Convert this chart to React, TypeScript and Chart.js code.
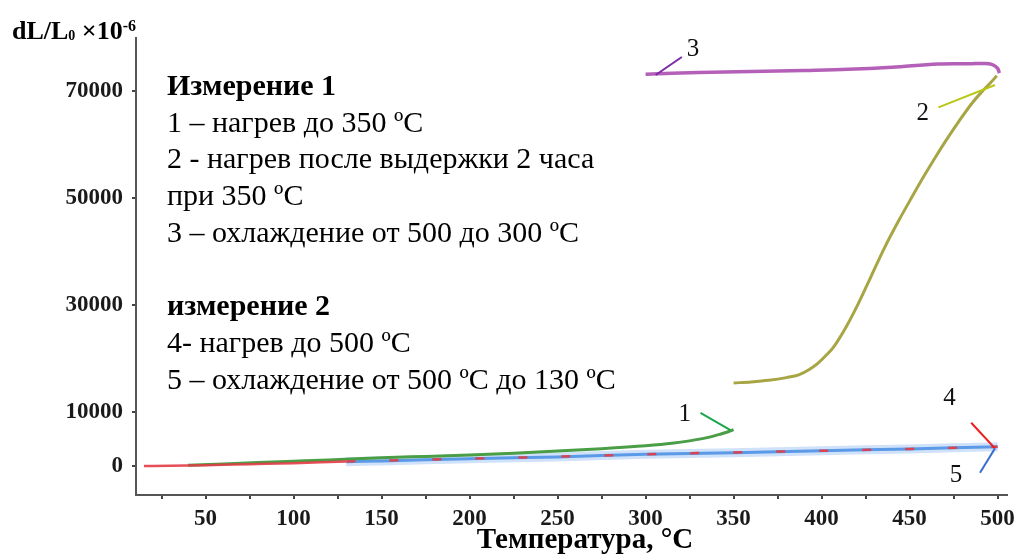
import React, { useEffect, useRef } from "react";
import { Chart, registerables } from "chart.js";
Chart.register(...registerables);

// ---- data (temperature °C, dL/L0 ×10^-6) ----
const heat1T = [40, 60, 80, 100, 120, 150, 175, 200, 225, 250, 275, 300, 315, 325, 335, 342, 347, 350];
const heat1V = [150, 400, 650, 900, 1150, 1550, 1800, 2050, 2400, 2800, 3250, 3800, 4250, 4700, 5300, 5900, 6400, 6800];

const heat2T = [350, 360, 370, 380, 387, 393, 398, 403, 407, 414, 421, 428, 436, 444, 451, 458, 465, 471, 478, 485, 491, 496, 499.5];
const heat2V = [15500, 15700, 16000, 16500, 17000, 18000, 19200, 20800, 22300, 26000, 30400, 35300, 40900, 45900, 50000, 54000, 57800, 60900, 64300, 67500, 69800, 71500, 72800];

const cool3T = [501, 500, 497, 492, 485, 466, 440, 415, 390, 360, 330, 300];
const cool3V = [73300, 74200, 74900, 75100, 75050, 75000, 74400, 74000, 73800, 73600, 73400, 73100];

const heat4T = [15, 30, 50, 75, 100, 130, 150, 200, 250, 300, 350, 400, 450, 500];
const heat4V = [0, 50, 170, 350, 520, 850, 1000, 1400, 1750, 2200, 2550, 2850, 3200, 3600];

const cool5T = [500, 450, 400, 350, 300, 250, 200, 150, 130];
const cool5V = [3600, 3200, 2850, 2500, 2200, 1700, 1380, 950, 820];

const xTickValues = [25, 50, 75, 100, 125, 150, 175, 200, 225, 250, 275, 300, 325, 350, 375, 400, 425, 450, 475, 500];
const xLabelValues = [50, 100, 150, 200, 250, 300, 350, 400, 450, 500];
const yTickValues = [0, 10000, 30000, 50000, 70000];

const legendLines = [
  { text: "Измерение 1", bold: true },
  { text: "1 – нагрев до 350 ºC", bold: false },
  { text: "2 - нагрев после выдержки 2 часа", bold: false },
  { text: "при 350 ºC", bold: false },
  { text: "3 – охлаждение от 500 до 300 ºC", bold: false },
  { text: "", bold: false },
  { text: "измерение 2", bold: true },
  { text: "4- нагрев до 500 ºC", bold: false },
  { text: "5 – охлаждение от 500 ºC до 130 ºC", bold: false },
];

// curve labels: text position and leader line in data coordinates
const curveLabels = [
  { text: "3", tx: 327, ty: 76400, x1: 320.6, y1: 76300, x2: 305.7, y2: 72950, color: "#7a2aa8" },
  { text: "2", tx: 457.4, ty: 64550, x1: 466.4, y1: 66900, x2: 498.5, y2: 71080, color: "#b8c814" },
  { text: "1", tx: 322.3, ty: 8450, x1: 331.2, y1: 9940, x2: 348.2, y2: 6700, color: "#1aa64a" },
  { text: "4", tx: 472.6, ty: 11380, x1: 485, y1: 8080, x2: 498.5, y2: 3300, color: "#ee1c1c" },
  { text: "5", tx: 476.3, ty: -2930, x1: 498.5, y1: 3300, x2: 490, y2: -1250, color: "#3a6fd0" },
];

const toXY = (ts: number[], vs: number[]) => ts.map((t, i) => ({ x: t, y: vs[i] }));

const SERIF = '"Liberation Serif", "Times New Roman", serif';

const overlayPlugin = {
  id: "overlay",
  afterDatasetsDraw(chart: any) {
    const { ctx, chartArea, scales } = chart;
    const xs = scales.x;
    const ys = scales.y;
    ctx.save();
    // leader lines + numbers
    curveLabels.forEach((l) => {
      ctx.strokeStyle = l.color;
      ctx.lineWidth = 2;
      ctx.beginPath();
      ctx.moveTo(xs.getPixelForValue(l.x1), ys.getPixelForValue(l.y1));
      ctx.lineTo(xs.getPixelForValue(l.x2), ys.getPixelForValue(l.y2));
      ctx.stroke();
      ctx.fillStyle = "#111";
      ctx.font = `25px ${SERIF}`;
      ctx.textAlign = "center";
      ctx.textBaseline = "alphabetic";
      ctx.fillText(l.text, xs.getPixelForValue(l.tx), ys.getPixelForValue(l.ty));
    });
    // text block
    ctx.textAlign = "left";
    ctx.fillStyle = "#000";
    const left = chartArea.left + 31;
    legendLines.forEach((ln, i) => {
      if (!ln.text) return;
      ctx.font = `${ln.bold ? "bold " : ""}30px ${SERIF}`;
      ctx.fillText(ln.text, left, chartArea.top + 57 + i * 36.7);
    });
    // x axis title
    ctx.font = `bold 29px ${SERIF}`;
    ctx.textAlign = "center";
    ctx.fillText("Температура, °C", 585, chart.height - 6);
    // y axis title
    ctx.textAlign = "left";
    let px = 12;
    const base = 39;
    const parts = [
      { t: "dL/L", f: `bold 26px ${SERIF}`, dy: 0 },
      { t: "0", f: `bold 14px ${SERIF}`, dy: 1 },
      { t: " ×10", f: `bold 26px ${SERIF}`, dy: 0 },
      { t: "-6", f: `bold 16px ${SERIF}`, dy: -8 },
    ];
    parts.forEach((p) => {
      ctx.font = p.f;
      ctx.fillText(p.t, px, base + p.dy);
      px += ctx.measureText(p.t).width;
    });
    ctx.restore();
  },
};

export default function App() {
  const ref = useRef<HTMLCanvasElement | null>(null);
  useEffect(() => {
    if (!ref.current) return;
    const chart = new Chart(ref.current, {
      type: "line",
      data: {
        datasets: [
          {
            label: "5 halo",
            data: toXY(cool5T, cool5V),
            borderColor: "rgba(120,170,240,0.35)",
            borderWidth: 9,
            pointRadius: 0,
            tension: 0.2,
            order: 10,
          },
          {
            label: "5",
            data: toXY(cool5T, cool5V),
            borderColor: "#5a9ae6",
            borderWidth: 3,
            pointRadius: 0,
            tension: 0.2,
            order: 9,
          },
          {
            label: "1",
            data: toXY(heat1T, heat1V),
            borderColor: "#4a9e45",
            borderWidth: 3,
            pointRadius: 0,
            cubicInterpolationMode: "monotone",
            order: 8,
          },
          {
            label: "4",
            data: toXY(heat4T, heat4V),
            borderColor: "rgba(225,60,70,0.9)",
            borderWidth: 2.5,
            pointRadius: 0,
            cubicInterpolationMode: "monotone",
            segment: {
              borderDash: (c: any) => (c.p0.parsed.x >= 130 ? [9, 34] : undefined),
            },
            order: 7,
          },
          {
            label: "2",
            data: toXY(heat2T, heat2V),
            borderColor: "#a8a545",
            borderWidth: 3,
            pointRadius: 0,
            cubicInterpolationMode: "monotone",
            order: 6,
          },
          {
            label: "3",
            data: toXY(cool3T, cool3V),
            borderColor: "#b460b8",
            borderWidth: 3.5,
            pointRadius: 0,
            tension: 0.35,
            order: 5,
          },
        ],
      },
      options: {
        animation: false,
        responsive: false,
        maintainAspectRatio: false,
        layout: { padding: { left: 0, top: 38, right: 12, bottom: 0 } },
        plugins: { legend: { display: false }, tooltip: { enabled: false } },
        scales: {
          x: {
            type: "linear",
            min: 10.5,
            max: 505.5,
            afterBuildTicks: (s: any) => {
              s.ticks = xTickValues.map((v) => ({ value: v }));
            },
            afterFit: (s: any) => {
              s.height = 59;
            },
            grid: { display: true, drawOnChartArea: false, drawTicks: true, tickLength: 4, color: "#444", lineWidth: 2 },
            border: { display: true, color: "#555", width: 2 },
            ticks: {
              autoSkip: false,
              maxRotation: 0,
              padding: 6,
              color: "#1a1a1a",
              font: { family: SERIF, size: 23, weight: "bold" },
              callback: (v: any) => (xLabelValues.includes(Number(v)) ? String(v) : ""),
            },
          },
          y: {
            type: "linear",
            min: -5400,
            max: 79850,
            afterBuildTicks: (s: any) => {
              s.ticks = yTickValues.map((v) => ({ value: v }));
            },
            afterFit: (s: any) => {
              s.width = 136;
            },
            grid: { display: true, drawOnChartArea: false, drawTicks: true, tickLength: 4, color: "#444", lineWidth: 2 },
            border: { display: true, color: "#555", width: 2 },
            ticks: {
              autoSkip: false,
              padding: 9,
              color: "#1a1a1a",
              font: { family: SERIF, size: 23, weight: "bold" },
              callback: (v: any) => String(v),
            },
          },
        },
      },
      plugins: [overlayPlugin],
    } as any);
    return () => chart.destroy();
  }, []);
  return (
    <div style={{ position: "fixed", left: 0, top: 0, width: 1021, height: 554, background: "#fff" }}>
      <canvas ref={ref} width={1021} height={554} style={{ display: "block" }} />
    </div>
  );
}
